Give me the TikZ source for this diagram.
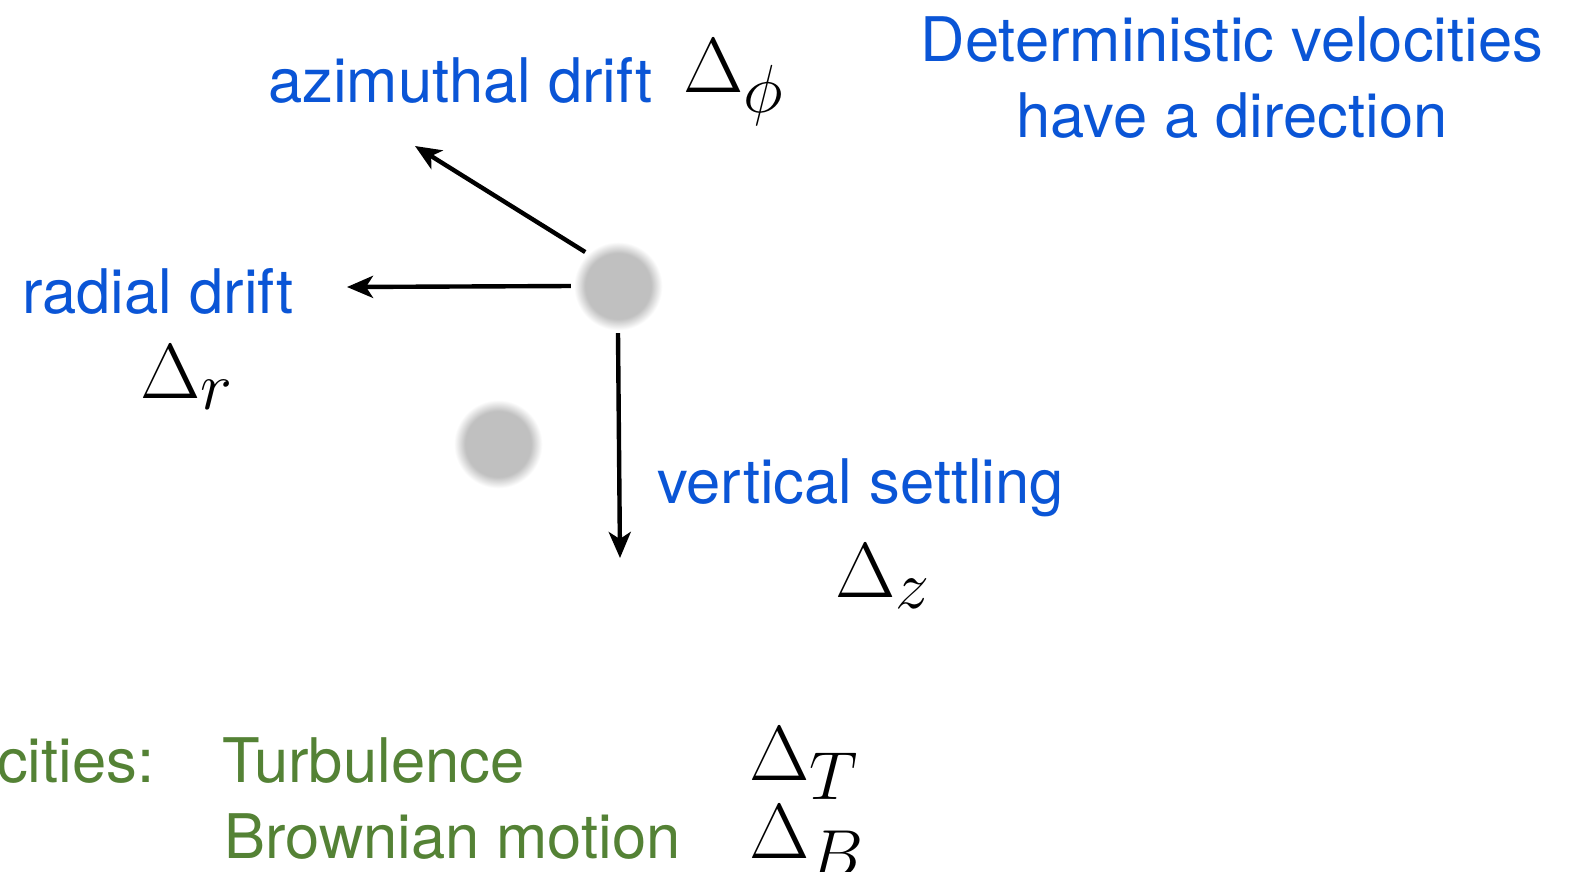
\RequirePackage{fix-cm}
\documentclass[tikz,border=0pt]{standalone}
\usepackage{fontspec}
\newfontfamily\hel{TeX Gyre Heros}
\usetikzlibrary{arrows.meta}
\DeclareMathSizes{78}{78}{68}{54}
\definecolor{dblue}{RGB}{10,85,214}
\definecolor{sgreen}{RGB}{84,130,53}
\definecolor{blobgray}{RGB}{192,192,192}
\pgfdeclareradialshading{blob}{\pgfpoint{0bp}{0bp}}{color(0bp)=(blobgray); color(17.5bp)=(blobgray); color(23.5bp)=(white); color(50bp)=(white)}
\begin{document}
\begin{tikzpicture}[x=1pt,y=-1pt,
  lab/.style={font=\hel\fontsize{61.5}{76}\selectfont, inner sep=0pt, anchor=base west},
  dlab/.style={lab, text=dblue},
  slab/.style={lab, text=sgreen},
  sym/.style={font=\fontsize{78}{84}\selectfont, inner sep=0pt, anchor=base west},
  particle/.style={circle, minimum size=94pt, inner sep=0pt, shade, shading=blob},
  vel/.style={line width=4.4pt, -{Stealth[length=26pt,width=22pt,inset=7pt]}}]
\fill[white] (0,0) rectangle (1569,871);
\useasboundingbox (0,0) rectangle (1569,871);
% particles
\node[particle] (p1) at (618,286) {};
\node[particle] (p2) at (498,444) {};
% free arrow ends
\coordinate (azend) at (415,146);
\coordinate (radend) at (347,287);
\coordinate (vertend) at (620,558);
\draw[vel] (p1.134) -- (azend);
\draw[vel] (p1.west) -- (radend);
\draw[vel] (p1.south) -- (vertend);
% labels
\node[dlab, align=center, anchor=south] (title) at (1232,139) {Deterministic velocities\\have a direction};
\node[dlab] (az) at (268,102) {azimuthal drift};
\node[sym] (daz) at (683,92) {$\Delta_\phi$};
\node[dlab] (rad) at (22,313) {radial drift};
\node[sym] (drad) at (140,398) {$\Delta_r$};
\node[dlab] (vert) at (657,503) {vertical settling};
\node[sym] (dvert) at (835,597) {$\Delta_z$};
\node[slab] (stoch) at (-3,782) {cities:};
\node[slab] (turb) at (222,782) {Turbulence};
\node[slab] (brown) at (224,858) {Brownian motion};
\node[sym] (dturb) at (749,780) {$\Delta_T$};
\node[sym] (dbrown) at (749,858) {$\Delta_B$};
\end{tikzpicture}
\end{document}
